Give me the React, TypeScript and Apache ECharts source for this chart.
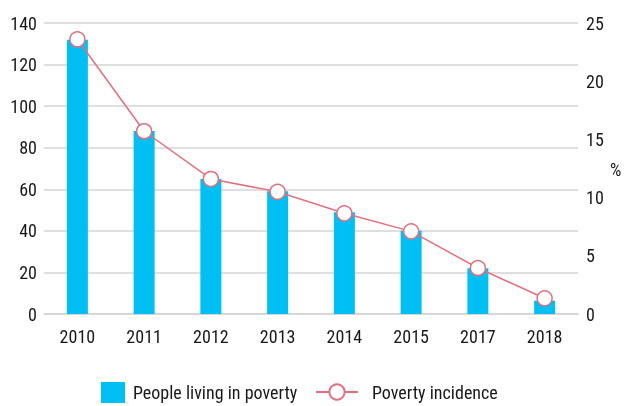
import React, { useEffect, useRef } from "react";
import * as echarts from "echarts";

const years = ["2010", "2011", "2012", "2013", "2014", "2015", "2017", "2018"];
const peopleInPoverty = [132, 88, 65, 59, 49, 40, 22, 6.4];
const povertyIncidence = [23.6, 15.7, 11.6, 10.5, 8.65, 7.1, 3.95, 1.35];
const leftTicks = { min: 0, max: 140, interval: 20 };
const rightTicks = { min: 0, max: 25, interval: 5 };

const FONT = "'Roboto Condensed', 'Liberation Sans', sans-serif";
const TEXT = "#1a1718";
const BAR = "#00bff3";
const LINE = "#e36f7f";
const GRID = "#d4d4d4";

export default function App() {
  const ref = useRef<HTMLDivElement>(null);
  useEffect(() => {
    if (!ref.current) return;
    const chart = echarts.init(ref.current, undefined, { renderer: "svg" });
    chart.setOption({
      animation: false,
      textStyle: { fontFamily: FONT, color: TEXT },
      grid: { left: 44, right: 56, top: 23, bottom: 92 },
      legend: [
        {
          data: ["People living in poverty"],
          left: 96,
          top: 377,
          itemWidth: 24,
          itemHeight: 21,
          icon: "rect",
          textStyle: { fontFamily: FONT, fontSize: 18, color: TEXT, padding: [0, 0, 0, 3] },
        },
        {
          data: ["Poverty incidence"],
          left: 310,
          top: 378,
          itemWidth: 42,
          itemHeight: 19,
          textStyle: { fontFamily: FONT, fontSize: 18, color: TEXT, padding: [0, 0, 0, 9] },
        },
      ],
      xAxis: {
        type: "category",
        data: years,
        axisLine: { show: true, lineStyle: { color: GRID, width: 1.5 } },
        axisTick: { show: false },
        axisLabel: { fontFamily: FONT, fontSize: 18, color: TEXT, margin: 13 },
      },
      yAxis: [
        {
          type: "value",
          ...leftTicks,
          axisLine: { show: false },
          axisTick: { show: false },
          splitLine: { lineStyle: { color: GRID, width: 1.5 } },
          axisLabel: { fontFamily: FONT, fontSize: 18, color: TEXT, margin: 7 },
        },
        {
          type: "value",
          ...rightTicks,
          position: "right",
          axisLine: { show: false },
          axisTick: { show: false },
          splitLine: { show: false },
          axisLabel: { fontFamily: FONT, fontSize: 18, color: TEXT, margin: 8 },
        },
      ],
      graphic: [
        {
          type: "text",
          left: 610,
          top: 160,
          style: { text: "%", fontFamily: FONT, fontSize: 18, fill: TEXT },
        },
      ],
      series: [
        {
          name: "People living in poverty",
          type: "bar",
          data: peopleInPoverty,
          barWidth: 21,
          itemStyle: { color: BAR },
          yAxisIndex: 0,
        },
        {
          name: "Poverty incidence",
          type: "line",
          data: povertyIncidence,
          yAxisIndex: 1,
          symbol: "circle",
          symbolSize: 15,
          lineStyle: { color: LINE, width: 1.5 },
          itemStyle: { color: "#ffffff", borderColor: LINE, borderWidth: 1.5 },
          z: 3,
        },
      ],
    });
    return () => chart.dispose();
  }, []);
  return (
    <div
      ref={ref}
      style={{ position: "fixed", left: 0, top: 0, width: 634, height: 406 }}
    />
  );
}
